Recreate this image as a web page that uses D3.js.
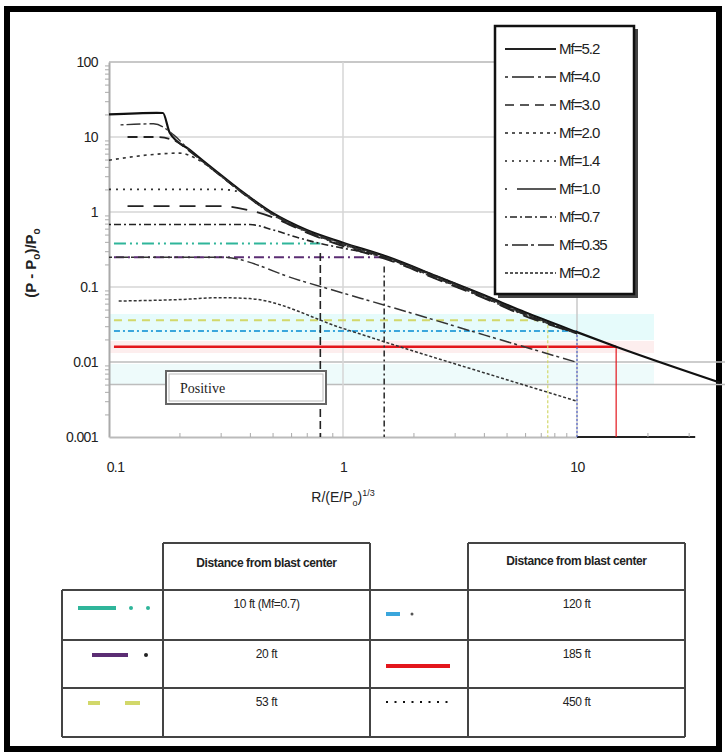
<!DOCTYPE html>
<html><head><meta charset="utf-8">
<script src="https://cdn.jsdelivr.net/npm/d3@7"></script>
<style>
body{margin:0;background:#fff;}
svg{display:block;font-family:"Liberation Sans",Arial,sans-serif;}
</style></head>
<body>
<svg id="c" width="725" height="754"></svg>
<script>
// ---------- DATA ----------
const mfLabels = ["Mf=5.2","Mf=4.0","Mf=3.0","Mf=2.0","Mf=1.4","Mf=1.0","Mf=0.7","Mf=0.35","Mf=0.2"];
const mf52X = [0.1,0.16,0.17,0.182,0.222,0.29,0.363,0.5,0.7,1,1.56,2.5,4,6,10,14.7,41];
const mf52Y = [20,21,20.9,11.3,6.7,3.4,1.96,0.97,0.575,0.39,0.25,0.14,0.078,0.046,0.025,0.016,0.0053];
const mf40X = [0.112,0.155,0.19,0.222,0.29,0.363,0.5,0.7,1,1.56,2.5,4,6,10];
const mf40Y = [14.5,15,10.5,6.5,3.3,1.9,0.95,0.56,0.38,0.245,0.136,0.075,0.044,0.024];
const mf30X = [0.12,0.16,0.19,0.222,0.29,0.363,0.5,0.7,1,1.56,2.5,4,6,10];
const mf30Y = [10,10,9,6.4,3.3,1.9,0.94,0.55,0.37,0.24,0.133,0.073,0.043,0.024];
const mf20X = [0.1,0.15,0.2,0.24,0.29,0.363,0.5,0.7,1,1.56,2.5,4,6,10];
const mf20Y = [4.9,5.8,6.1,5.0,3.3,1.9,0.93,0.55,0.37,0.24,0.132,0.073,0.043,0.024];
const mf14X = [0.1,0.3,0.363,0.5,0.7,1,1.56,2.5,4,6,10];
const mf14Y = [2.0,2.0,1.85,0.92,0.54,0.36,0.235,0.13,0.072,0.042,0.024];
const mf10X = [0.12,0.3,0.4,0.5,0.7,1,1.56,2.5,4,6,10];
const mf10Y = [1.2,1.2,1.05,0.85,0.53,0.35,0.23,0.128,0.071,0.041,0.024];
const mf07X = [0.1,0.4,0.5,0.65,0.8,1,1.5,2.5,4,6,10];
const mf07Y = [0.68,0.68,0.58,0.45,0.38,0.33,0.25,0.14,0.077,0.044,0.024];
const mf035X = [0.1,0.3,0.65,1,2,4,10];
const mf035Y = [0.25,0.25,0.123,0.083,0.044,0.023,0.0099];
const mf02X = [0.11,0.2,0.3,0.4,1,2,4,10];
const mf02Y = [0.065,0.068,0.072,0.07,0.028,0.014,0.0072,0.003];

const distLabels = ["10 ft (Mf=0.7)","20 ft","53 ft","120 ft","185 ft","450 ft"];
const distColors = ["#2fb59a","#5b2d73","#d2d86a","#3aa6dc","#e3161c","#111111"];
const distLevelY = [0.38,0.25,0.036,0.026,0.016];   // horizontal level of each marker line
const distLevelX = [0.8,1.5,7.5,10,14.7];           // x where it meets the curve
const yTicks = [100,10,1,0.1,0.01,0.001];
const yTickLabels = ["100","10","1","0.1","0.01","0.001"];
const xTicks = [0.1,1,10];
const xTickLabels = ["0.1","1","10"];

// ---------- SETUP ----------
const svg = d3.select("#c");
const x = d3.scaleLog().domain([0.1,10]).range([109,577]);
const y = d3.scaleLog().domain([0.001,100]).range([437,62]);

const series = [
  {x:mf52X,y:mf52Y,dash:null,w:2.2,c:"#111"},
  {x:mf40X,y:mf40Y,dash:"3,3,14,3",w:1.4,c:"#333"},
  {x:mf30X,y:mf30Y,dash:"10,6",w:1.8,c:"#222"},
  {x:mf20X,y:mf20Y,dash:"3,4",w:1.6,c:"#333"},
  {x:mf14X,y:mf14Y,dash:"2,5",w:1.8,c:"#333"},
  {x:mf10X,y:mf10Y,dash:"16,10",w:1.8,c:"#222"},
  {x:mf07X,y:mf07Y,dash:"2,3,7,3",w:1.6,c:"#222"},
  {x:mf035X,y:mf035Y,dash:"3,4,12,3",w:1.5,c:"#333"},
  {x:mf02X,y:mf02Y,dash:"3,2",w:1.5,c:"#333"}
];
const legendDash = [null,"3,4,22,4","9,6","3,4","2,5","2,10,40,0","2,3,7,3","3,4,16,3","3,2"];

// outer frame
svg.append("rect").attr("x",7).attr("y",9).attr("width",712).attr("height",740)
  .attr("fill","none").attr("stroke","#000").attr("stroke-width",6);

// faint highlight bands
svg.append("rect").attr("x",109).attr("y",314).attr("width",545).attr("height",26).attr("fill","#e6fbfb");
svg.append("rect").attr("x",109).attr("y",341).attr("width",545).attr("height",12).attr("fill","#fdeeee");
svg.append("rect").attr("x",109).attr("y",364).attr("width",545).attr("height",20).attr("fill","#eefbfb");

const g = svg.append("g");
// gridlines
const grid = "#c8c8c8";
g.append("line").attr("x1",x(0.1)).attr("x2",495).attr("y1",y(100)).attr("y2",y(100)).attr("stroke",grid).attr("stroke-width",2);
[10,1].forEach(v=>g.append("line").attr("x1",x(0.1)).attr("x2",495).attr("y1",y(v)).attr("y2",y(v)).attr("stroke","#d6d6d6").attr("stroke-width",1.5));
g.append("line").attr("x1",x(0.1)).attr("x2",x(10)).attr("y1",y(0.1)).attr("y2",y(0.1)).attr("stroke","#d6d6d6").attr("stroke-width",1.5);
[0.01,0.005].forEach(v=>g.append("line").attr("x1",x(0.1)).attr("x2",725).attr("y1",y(v)).attr("y2",y(v)).attr("stroke","#bdbdbd").attr("stroke-width",1.5));
g.append("line").attr("x1",x(1)).attr("x2",x(1)).attr("y1",y(100)).attr("y2",y(0.001)).attr("stroke","#d6d6d6").attr("stroke-width",1.5);
g.append("line").attr("x1",x(10)).attr("x2",x(10)).attr("y1",296).attr("y2",y(0.001)).attr("stroke","#c8c8c8").attr("stroke-width",1.5);

// axes
const yAxis = g.append("g").attr("transform",`translate(${x(0.1)},0)`)
  .call(d3.axisLeft(y).tickValues(yTicks).tickFormat((d,i)=>yTickLabels[i]).tickSize(0).tickPadding(11));
yAxis.select(".domain").attr("stroke","#aaa").attr("stroke-width",2);
yAxis.selectAll("text").attr("font-size",14).attr("fill","#222").attr("letter-spacing","-0.6");
const yMinor = [];
yTicks.slice(1).forEach(d=>{for(let k=2;k<10;k++) yMinor.push(d*k);});
g.append("g").attr("transform",`translate(${x(0.1)},0)`)
  .call(d3.axisLeft(y).tickValues(yMinor).tickFormat("").tickSize(4))
  .call(s=>{s.select(".domain").remove();s.selectAll("line").attr("stroke","#aaa");});

const xAxis = g.append("g").attr("transform",`translate(0,${y(0.001)})`)
  .call(d3.axisBottom(x).tickValues(xTicks).tickFormat((d,i)=>xTickLabels[i]).tickSize(0).tickPadding(25));
xAxis.select(".domain").attr("stroke","#bbb").attr("stroke-width",2);
xAxis.selectAll("text").attr("font-size",14).attr("fill","#222").attr("letter-spacing","-0.6");
xAxis.selectAll(".tick text").attr("dx",(d,i)=>i===0?6:0);
g.append("line").attr("x1",x(10)).attr("x2",x(32)).attr("y1",y(0.001)).attr("y2",y(0.001)).attr("stroke","#222").attr("stroke-width",2);
const xMinor = [];
[0.1,1,10].forEach(d=>{for(let k=2;k<10;k++) if(d*k<32) xMinor.push(d*k);});
g.append("g").attr("transform",`translate(0,${y(0.001)})`)
  .call(d3.axisTop(x).tickValues(xMinor).tickFormat("").tickSize(4))
  .call(s=>{s.select(".domain").remove();s.selectAll("line").attr("stroke","#aaa");});

// axis titles
svg.append("text").attr("transform","translate(36,263) rotate(-90)").attr("text-anchor","middle")
  .attr("font-size",15).attr("font-weight","bold").attr("fill","#222")
  .html('(P - P<tspan font-size="10" dy="4">o</tspan><tspan dy="-4">)/P</tspan><tspan font-size="10" dy="4">o</tspan>');
svg.append("text").attr("x",343).attr("y",502).attr("text-anchor","middle")
  .attr("font-size",14).attr("fill","#222")
  .html('R/(E/P<tspan font-size="9" dy="4">o</tspan><tspan dy="-4">)</tspan><tspan font-size="9" dy="-6">1/3</tspan>');

// distance marker lines (horizontal then vertical)
const hDash = ["12,4,2,4,2,4","10,4,2,4","8,6","6,3,2,3",null];
distLevelY.forEach((v,i)=>{
  g.append("line").attr("x1",x(0.105)).attr("x2",x(distLevelX[i])).attr("y1",y(v)).attr("y2",y(v))
    .attr("stroke",distColors[i]).attr("stroke-width",i===4?2.5:2).attr("stroke-dasharray",hDash[i]);
});
const vColors = ["#222","#333",distColors[2],"#5566cc",distColors[4]];
const vDash = ["8,4","6,3,2,3","3,2","2,2",null];
distLevelY.forEach((v,i)=>{
  g.append("line").attr("x1",x(distLevelX[i])).attr("x2",x(distLevelX[i])).attr("y1",y(i<2?v*0.75:v)).attr("y2",y(0.001))
    .attr("stroke",vColors[i]).attr("stroke-width",i<2?1.6:1.2).attr("stroke-dasharray",vDash[i]);
});

// curves
const line = d3.line().x(d=>x(d[0])).y(d=>y(d[1])).curve(d3.curveMonotoneX);
series.forEach(s=>{
  g.append("path").attr("d",line(s.x.map((v,i)=>[v,s.y[i]])))
    .attr("fill","none").attr("stroke",s.c).attr("stroke-width",s.w).attr("stroke-dasharray",s.dash);
});

// "Positive" box
svg.append("rect").attr("x",166).attr("y",371).attr("width",160).attr("height",33).attr("fill","#fff").attr("stroke","#666").attr("stroke-width",2);
svg.append("rect").attr("x",169).attr("y",374).attr("width",154).attr("height",27).attr("fill","none").attr("stroke","#bbb").attr("stroke-width",1);
svg.append("text").attr("x",180).attr("y",393).attr("font-family","'Liberation Serif','Times New Roman',serif")
  .attr("font-size",14).attr("fill","#222").text("Positive");

// legend
const lg = svg.append("g");
lg.append("rect").attr("x",498).attr("y",29).attr("width",140).attr("height",269).attr("fill","#444");
lg.append("rect").attr("x",495).attr("y",26).attr("width",139).attr("height",268).attr("fill","#fff").attr("stroke","#111").attr("stroke-width",2.5);
mfLabels.forEach((lab,i)=>{
  const yy = 49 + i*28;
  lg.append("line").attr("x1",505).attr("x2",556).attr("y1",yy).attr("y2",yy)
    .attr("stroke","#222").attr("stroke-width",i===0?2:1.6).attr("stroke-dasharray",legendDash[i]);
  lg.append("text").attr("x",559).attr("y",yy+5).attr("font-size",15).attr("fill","#222").attr("letter-spacing","-1").text(lab);
});

// table
const tb = svg.append("g").attr("stroke","#444").attr("stroke-width",2);
const cx = [62,163,370,468,685];
const ry = [543,590,640,688,737];
[[cx[1],cx[2]],[cx[3],cx[4]]].forEach(([a,b])=>{
  tb.append("line").attr("x1",a).attr("x2",b).attr("y1",ry[0]).attr("y2",ry[0]);
  tb.append("line").attr("x1",a).attr("x2",a).attr("y1",ry[0]).attr("y2",ry[1]);
  tb.append("line").attr("x1",b).attr("x2",b).attr("y1",ry[0]).attr("y2",ry[1]);
});
ry.slice(1).forEach(r=>tb.append("line").attr("x1",cx[0]).attr("x2",cx[4]).attr("y1",r).attr("y2",r));
cx.forEach(c=>tb.append("line").attr("x1",c).attr("x2",c).attr("y1",ry[1]).attr("y2",ry[4]));
const tt = svg.append("g").attr("font-size",12).attr("fill","#222").attr("text-anchor","middle").attr("letter-spacing","-0.4");
tt.append("text").attr("x",(cx[1]+cx[2])/2).attr("y",567).attr("font-weight","bold").text("Distance from blast center");
tt.append("text").attr("x",(cx[3]+cx[4])/2).attr("y",565).attr("font-weight","bold").text("Distance from blast center");
[0,1,2].forEach(i=>{
  tt.append("text").attr("x",(cx[1]+cx[2])/2).attr("y",ry[i+1]+18).text(distLabels[i]);
  tt.append("text").attr("x",(cx[3]+cx[4])/2).attr("y",ry[i+1]+18).text(distLabels[i+3]);
});
// table samples
const ts = svg.append("g");
ts.append("line").attr("x1",78).attr("x2",116).attr("y1",608).attr("y2",608).attr("stroke",distColors[0]).attr("stroke-width",4);
[131,148].forEach(px=>ts.append("circle").attr("cx",px).attr("cy",608).attr("r",2).attr("fill",distColors[0]));
ts.append("line").attr("x1",92).attr("x2",128).attr("y1",655).attr("y2",655).attr("stroke",distColors[1]).attr("stroke-width",4);
ts.append("circle").attr("cx",146).attr("cy",655).attr("r",2).attr("fill","#222");
[[88,100],[125,140]].forEach(([a,b])=>ts.append("line").attr("x1",a).attr("x2",b).attr("y1",703).attr("y2",703).attr("stroke",distColors[2]).attr("stroke-width",4));
ts.append("line").attr("x1",386).attr("x2",400).attr("y1",614).attr("y2",614).attr("stroke",distColors[3]).attr("stroke-width",4);
ts.append("circle").attr("cx",412).attr("cy",614).attr("r",1.5).attr("fill","#555");
ts.append("line").attr("x1",386).attr("x2",450).attr("y1",666).attr("y2",666).attr("stroke",distColors[4]).attr("stroke-width",4);
ts.append("line").attr("x1",386).attr("x2",450).attr("y1",702).attr("y2",702).attr("stroke",distColors[5]).attr("stroke-width",2).attr("stroke-dasharray","2,6.5");
</script>
</body></html>
